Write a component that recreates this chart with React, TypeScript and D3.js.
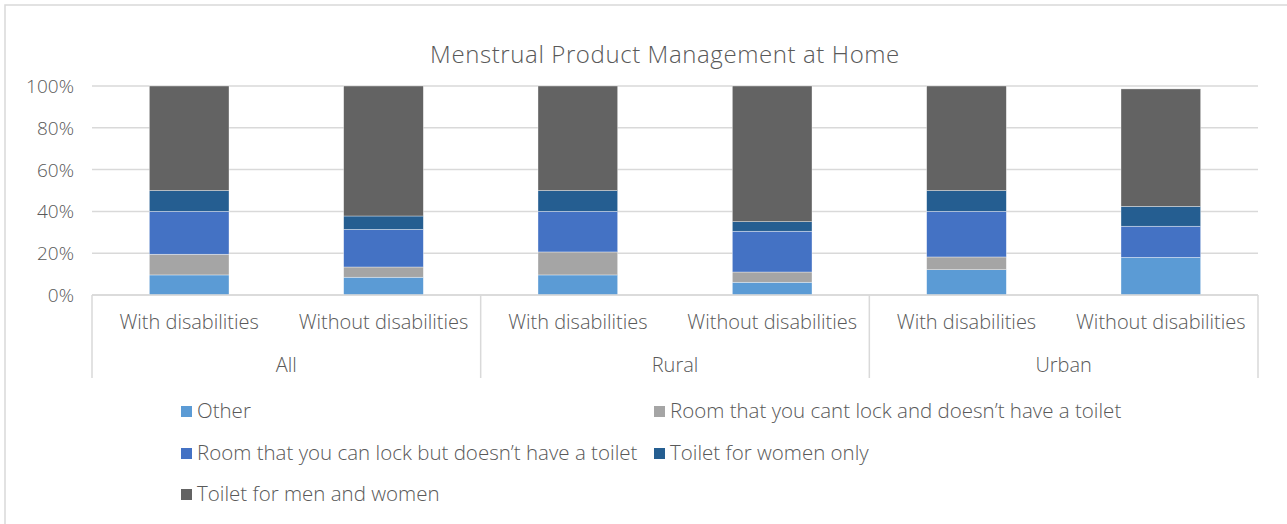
import React from "react";
import * as d3 from "d3";

const groups = ["All", "Rural", "Urban"];
const subgroups = ["With disabilities", "Without disabilities"];
const seriesNames = [
  "Other",
  "Room that you cant lock and doesn\u2019t have a toilet",
  "Room that you can lock but doesn\u2019t have a toilet",
  "Toilet for women only",
  "Toilet for men and women",
];
const seriesColors = ["#5B9BD5", "#A5A5A5", "#4472C4", "#255E91", "#636363"];
// values per bar (All-With, All-Without, Rural-With, Rural-Without, Urban-With, Urban-Without)
const other = [9.6, 8.5, 9.6, 6.1, 12.1, 18.0];
const cantLock = [9.9, 4.9, 11.0, 4.9, 6.1, 0];
const canLock = [20.5, 18.0, 19.4, 19.5, 21.8, 14.9];
const womenOnly = [10.0, 6.4, 10.0, 4.6, 10.0, 9.5];
const menWomen = [50.0, 62.2, 50.0, 64.9, 50.0, 56.2];
const yTicks = [0, 20, 40, 60, 80, 100];

const W = 1287;
const H = 524;
const plotLeft = 92;
const plotRight = 1258;
const plotTop = 86;
const plotBottom = 295;
const textColor = "#595959";
const font = "'Open Sans', Lato, sans-serif";

export default function App() {
  const seriesValues = [other, cantLock, canLock, womenOnly, menWomen];
  const bars = groups.flatMap((g) => subgroups.map((s) => ({ g, s, key: g + "|" + s })));
  const rows = bars.map((b, i) => {
    const r: any = { key: b.key };
    seriesNames.forEach((n, k) => (r[n] = seriesValues[k][i]));
    return r;
  });
  const stacked = d3.stack().keys(seriesNames)(rows);

  const x = d3
    .scaleBand()
    .domain(bars.map((b) => b.key))
    .range([plotLeft, plotRight])
    .paddingInner(0.59)
    .paddingOuter(0.295);
  const xGroup = d3.scaleBand().domain(groups).range([plotLeft, plotRight]);
  const y = d3.scaleLinear().domain([0, 100]).range([plotBottom, plotTop]);

  const legendItems = [
    { i: 0, x: 181, y: 418 },
    { i: 1, x: 654, y: 418 },
    { i: 2, x: 181, y: 460 },
    { i: 3, x: 654, y: 460 },
    { i: 4, x: 181, y: 501 },
  ];

  return (
    <svg
      width={W}
      height={H}
      style={{ position: "absolute", left: 0, top: 0, background: "#fff" }}
      fontFamily={font}
      fontWeight={300}
    >
      <rect x={5} y={5} width={W + 10} height={H + 10} fill="#fff" stroke="#d9d9d9" strokeWidth={1.5} />
      <text x={665} y={63} textAnchor="middle" fontSize={24} fill={textColor} letterSpacing={0.6}>
        Menstrual Product Management at Home
      </text>
      {yTicks.map((t) => (
        <g key={t}>
          <line x1={plotLeft} x2={plotRight} y1={y(t)} y2={y(t)} stroke="#d9d9d9" strokeWidth={1.5} />
          <text x={74} y={y(t) + 7} textAnchor="end" fontSize={19} fill={textColor}>
            {t}%
          </text>
        </g>
      ))}
      {stacked.map((layer, k) => (
        <g key={layer.key} fill={seriesColors[k]}>
          {layer.map((d, i) =>
            d[1] - d[0] > 0 ? (
              <rect
                key={i}
                x={x(bars[i].key)}
                width={x.bandwidth()}
                y={y(d[1])}
                height={y(d[0]) - y(d[1])}
                stroke="#ffffff"
                strokeWidth={0.6}
                strokeOpacity={0.6}
              />
            ) : null
          )}
        </g>
      ))}
      {/* category axis */}
      <line x1={plotLeft} x2={plotRight} y1={plotBottom} y2={plotBottom} stroke="#d9d9d9" strokeWidth={1.5} />
      {[...groups.map((g) => xGroup(g)!), plotRight].map((xx, i) => (
        <line key={i} x1={xx} x2={xx} y1={plotBottom} y2={378} stroke="#d9d9d9" strokeWidth={1.5} />
      ))}
      {bars.map((b) => (
        <text
          key={b.key}
          x={x(b.key)! + x.bandwidth() / 2}
          y={329}
          textAnchor="middle"
          fontSize={20}
          fill={textColor}
        >
          {b.s}
        </text>
      ))}
      {groups.map((g) => (
        <text key={g} x={xGroup(g)! + xGroup.bandwidth() / 2} y={372} textAnchor="middle" fontSize={20} fill={textColor}>
          {g}
        </text>
      ))}
      {legendItems.map((it) => (
        <g key={it.i}>
          <rect x={it.x} y={it.y - 12} width={11} height={11} fill={seriesColors[it.i]} />
          <text x={it.x + 16} y={it.y} fontSize={20.5} fill={textColor}>
            {seriesNames[it.i]}
          </text>
        </g>
      ))}
    </svg>
  );
}
